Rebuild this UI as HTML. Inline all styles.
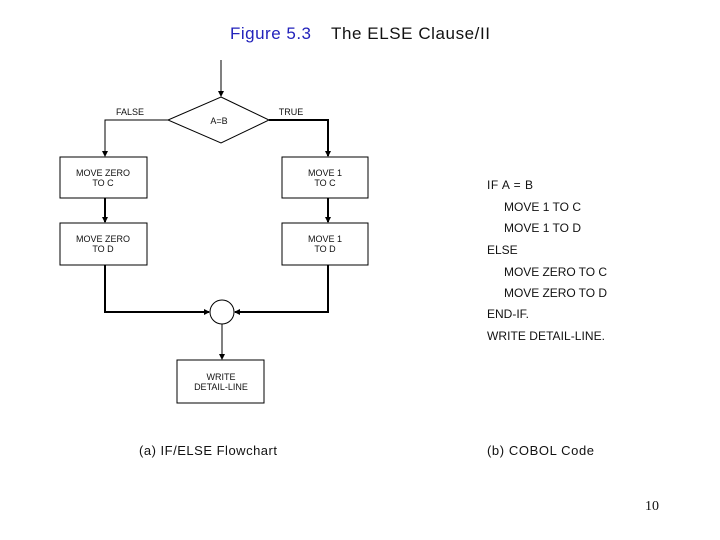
<!DOCTYPE html>
<html><head><style>
body{margin:0;background:#fff;}
svg{display:block;}
.s{font-family:"Liberation Sans",sans-serif;}
</style></head><body>
<svg width="720" height="540" xmlns="http://www.w3.org/2000/svg">
<defs><marker id="a" markerWidth="6" markerHeight="6" refX="5" refY="3" orient="auto" markerUnits="userSpaceOnUse"><path d="M0,0 L6,3 L0,6z" fill="#000"/></marker></defs>
<g class="s">
<text x="230" y="39" font-size="17" fill="#2222bb" textLength="81">Figure 5.3</text>
<text x="331" y="39" font-size="17" fill="#111" textLength="159">The ELSE Clause/II</text>
</g>
<g stroke="#000" fill="none" stroke-width="1">
<line x1="221" y1="60" x2="221" y2="96" marker-end="url(#a)"/>
<polygon points="221,97 269,120 221,143 168,120"/>
<polyline points="168,120 105,120 105,156" marker-end="url(#a)"/>
<polyline points="269,120 328,120 328,156" stroke-width="2" marker-end="url(#a)"/>
<rect x="60" y="157" width="87" height="41"/>
<rect x="282" y="157" width="86" height="41"/>
<rect x="60" y="223" width="87" height="42"/>
<rect x="282" y="223" width="86" height="42"/>
<line x1="105" y1="198" x2="105" y2="222" stroke-width="2" marker-end="url(#a)"/>
<line x1="328" y1="198" x2="328" y2="222" stroke-width="2" marker-end="url(#a)"/>
<polyline points="105,265 105,312 209,312" stroke-width="2" marker-end="url(#a)"/>
<polyline points="328,265 328,312 235,312" stroke-width="2" marker-end="url(#a)"/>
<circle cx="222" cy="312" r="12"/>
<line x1="222" y1="324" x2="222" y2="359" marker-end="url(#a)"/>
<rect x="177" y="360" width="87" height="43"/>
</g>
<g class="s" font-size="9" fill="#111" text-anchor="middle">
<text x="130" y="115">FALSE</text>
<text x="291" y="115">TRUE</text>
<text x="219" y="124">A=B</text>
<text x="103" y="176">MOVE ZERO</text><text x="103" y="186">TO C</text>
<text x="325" y="176">MOVE 1</text><text x="325" y="186">TO C</text>
<text x="103" y="242">MOVE ZERO</text><text x="103" y="252">TO D</text>
<text x="325" y="242">MOVE 1</text><text x="325" y="252">TO D</text>
<text x="221" y="380">WRITE</text><text x="221" y="390">DETAIL-LINE</text>
</g>
<g class="s" font-size="12" fill="#111">
<text x="487" y="189" textLength="46">IF  A = B</text>
<text x="504" y="211" textLength="77">MOVE 1 TO C</text>
<text x="504" y="232" textLength="77">MOVE 1 TO D</text>
<text x="487" y="254">ELSE</text>
<text x="504" y="276" textLength="103">MOVE ZERO TO C</text>
<text x="504" y="297" textLength="103">MOVE ZERO TO D</text>
<text x="487" y="318">END-IF.</text>
<text x="487" y="340" textLength="118">WRITE DETAIL-LINE.</text>
<text x="139" y="455" font-size="13" textLength="138">(a) IF/ELSE Flowchart</text>
<text x="487" y="455" font-size="13" textLength="107">(b) COBOL Code</text>
</g>
<text x="645" y="510" font-size="14" style="font-family:'Liberation Serif',serif" fill="#111">10</text>
</svg>
</body></html>
